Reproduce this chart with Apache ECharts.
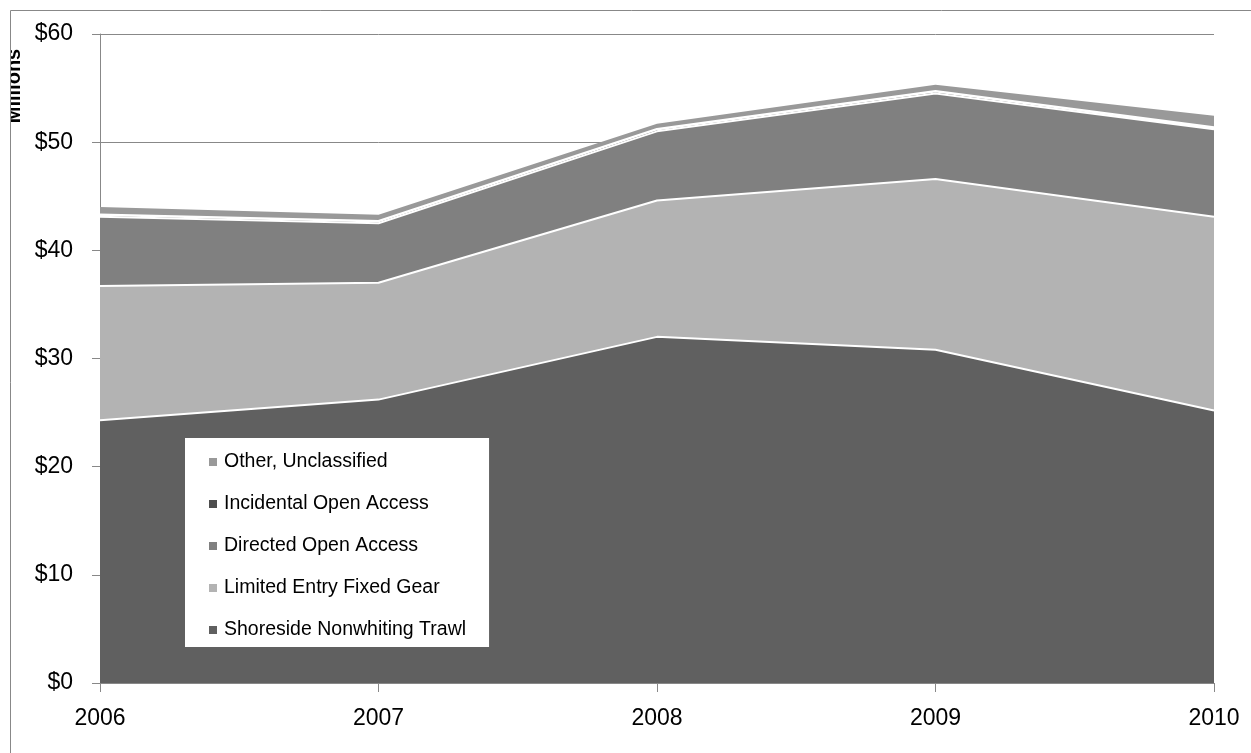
<!DOCTYPE html>
<html>
<head>
<meta charset="utf-8">
<script src="https://cdn.jsdelivr.net/npm/echarts@6/dist/echarts.min.js"></script>
<style>
  html, body { margin: 0; padding: 0; background: #fff; }
  #chart { width: 1251px; height: 753px; }
</style>
</head>
<body>
<div id="chart"></div>
<script>
var myChart = echarts.init(document.getElementById('chart'));

// years on the x axis
var years = ['2006', '2007', '2008', '2009', '2010'];
// revenue by sector, $ millions (stacked bottom to top)
var shoreside = [24.3, 26.2, 32.0, 30.8, 25.2];
var limitedEntry = [12.4, 10.8, 12.6, 15.8, 17.9];
var directedOA = [6.4, 5.5, 6.4, 7.9, 8.1];
var incidentalOA = [0.2, 0.2, 0.2, 0.2, 0.15];
var otherUncl = [0.7, 0.6, 0.5, 0.6, 1.1];

var font = 'Liberation Sans';

function areaSeries(name, data, color, lineW) {
    return {
        name: name,
        type: 'line',
        stack: 'total',
        data: data,
        symbol: 'none',
        color: color,
        lineStyle: { color: lineW ? '#fff' : color, width: lineW || 0 },
        areaStyle: { color: color, opacity: 1 }
    };
}

option = {
    animation: false,
    backgroundColor: '#fff',
    grid: { left: 100, right: 37, top: 34, bottom: 70 },
    legend: {
        orient: 'vertical',
        left: 185,
        top: 438,
        padding: [14, 23, 7, 24],
        backgroundColor: '#fff',
        itemWidth: 8,
        itemHeight: 8,
        itemGap: 22,
        icon: 'rect',
        textStyle: { fontFamily: font, fontSize: 19.5, lineHeight: 20, color: '#000',
            padding: [0, 0, 0, 2] },
        data: ['Other, Unclassified', 'Incidental Open Access', 'Directed Open Access',
               'Limited Entry Fixed Gear', 'Shoreside Nonwhiting Trawl']
    },
    xAxis: {
        type: 'category',
        data: years,
        boundaryGap: false,
        axisLine: { lineStyle: { color: '#888', width: 1 } },
        axisTick: { show: true, length: 9, lineStyle: { color: '#888' } },
        axisLabel: { fontFamily: font, fontSize: 23, color: '#000', margin: 24 }
    },
    yAxis: {
        type: 'value',
        min: 0,
        max: 60,
        interval: 10,
        axisLine: { show: true, lineStyle: { color: '#888', width: 1 } },
        axisTick: { show: true, length: 8, lineStyle: { color: '#888' } },
        axisLabel: { fontFamily: font, fontSize: 23, color: '#000', margin: 27,
            formatter: function (v) { return '$' + v; } },
        splitLine: { show: true, lineStyle: { color: '#888', width: 1 } }
    },
    graphic: [
        {
            type: 'text',
            x: 24,
            y: 86,
            rotation: Math.PI / 2,
            style: {
                text: 'Millions',
                fontFamily: font,
                fontSize: 20,
                fontWeight: 'bold',
                fill: '#000',
                align: 'center',
                verticalAlign: 'bottom'
            },
            z: 10
        },
        {
            type: 'rect',
            shape: { x: 0, y: 0, width: 10, height: 753 },
            style: { fill: '#fff' },
            z: 11
        },
        {
            type: 'rect',
            shape: { x: 10.5, y: 10.5, width: 1300, height: 800 },
            style: { fill: null, stroke: '#888', lineWidth: 1 },
            z: 12
        }
    ],
    series: [
        areaSeries('Shoreside Nonwhiting Trawl', shoreside, '#606060', 2),
        areaSeries('Limited Entry Fixed Gear', limitedEntry, '#b3b3b3', 2),
        areaSeries('Directed Open Access', directedOA, '#808080', 2),
        areaSeries('Incidental Open Access', incidentalOA, '#4d4d4d', 2.5),
        areaSeries('Other, Unclassified', otherUncl, '#999999', 0)
    ]
};

myChart.setOption(option);
</script>
</body>
</html>
